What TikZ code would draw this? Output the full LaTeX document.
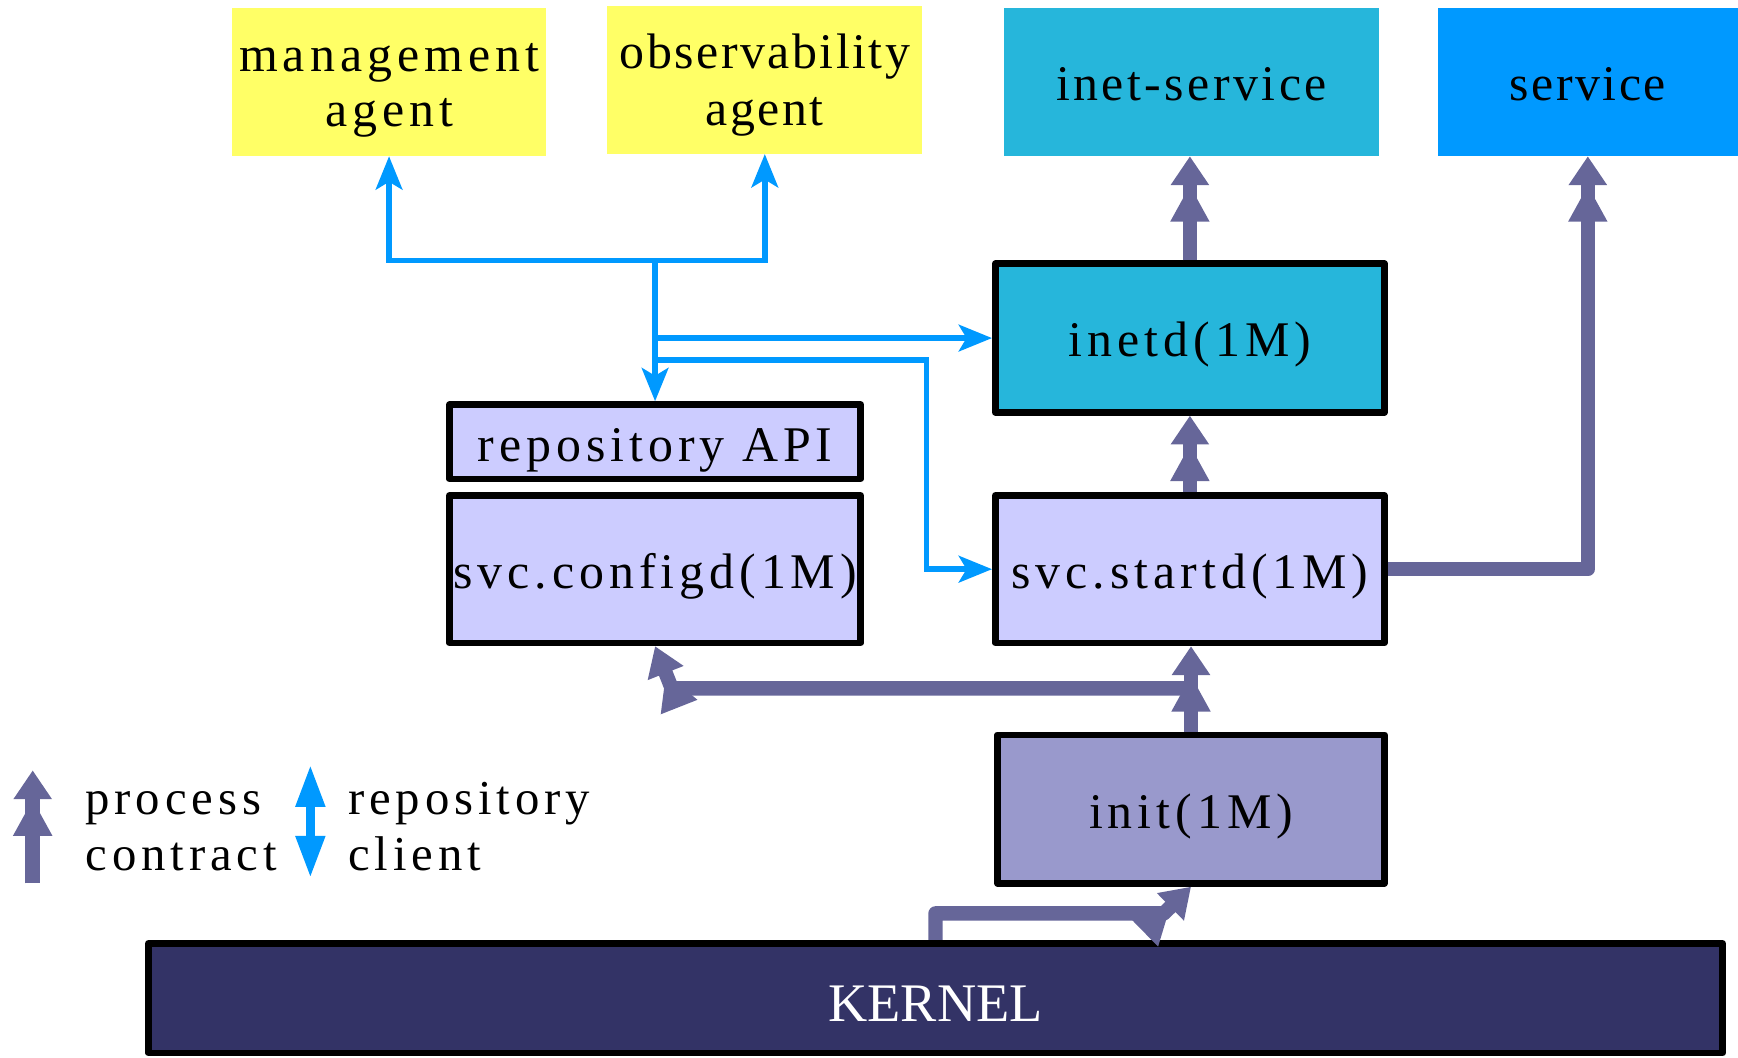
\documentclass[tikz,border=0pt]{standalone}
\usepackage{fontspec}
\setmainfont{Liberation Serif}
\newfontfamily\spacedserif{Liberation Serif}[LetterSpace=10]
\newfontfamily\midserif{Liberation Serif}[LetterSpace=7]
\newfontfamily\tightserif{Liberation Serif}[LetterSpace=5]
\usetikzlibrary{arrows.meta}

\definecolor{agentyellow}{HTML}{FFFF66}
\definecolor{inetcyan}{HTML}{26B6DB}
\definecolor{svcblue}{HTML}{0099FF}
\definecolor{daemonlav}{HTML}{CCCCFF}
\definecolor{initlav}{HTML}{9999CC}
\definecolor{kernelnavy}{HTML}{333366}
\definecolor{contractpurple}{HTML}{666699}
\definecolor{clientblue}{HTML}{0099FF}

% struts that set the first-line height and last-line depth of two-line labels
\newcommand\lblTop{\rule{0pt}{41pt}}
\newcommand\lblBot{\rule[-10pt]{0pt}{10pt}}

\begin{document}
\begin{tikzpicture}[x=1pt,y=-1pt,
  boxtext/.style={font=\spacedserif\fontsize{45}{50}\selectfont, align=center,
    inner sep=0pt, outer sep=0pt, rectangle},
  oneline/.style={text height=44pt, text depth=10pt},
  flatbox/.style={boxtext, draw=none},
  framedbox/.style={boxtext, oneline, draw=black, line width=6pt, line join=round, outer sep=3pt},
  legendtext/.style={font=\spacedserif\fontsize{44}{50}\selectfont, inner sep=0pt, anchor=base west},
  contract/.style={draw=contractpurple, line width=13pt, line join=round,
    -{Triangle[length=33pt,width=33pt,sep=0pt] Triangle[length=26pt,width=33pt]}},
  client/.style={draw=clientblue, line width=5pt,
    -{Stealth[length=30pt,width=24pt,inset=7pt]}},
]
\useasboundingbox (0,0) rectangle (1568,954);

% top row: agents and services
\node[flatbox, fill=agentyellow, minimum width=284pt, minimum height=134pt] (mgmt) at (351,74)
  {\lblTop management\\agent\lblBot};
\node[flatbox, fill=agentyellow, minimum width=284pt, minimum height=134pt,
  font=\tightserif\fontsize{45}{51}\selectfont] (obs) at (690,72)
  {\lblTop observability\\agent\lblBot};
\node[flatbox, oneline, fill=inetcyan, minimum width=338pt, minimum height=134pt,
  font=\midserif\fontsize{45}{50}\selectfont] (inetsvc) at (1075,74) {inet-service};
\node[flatbox, oneline, fill=svcblue, minimum width=271pt, minimum height=134pt,
  font=\tightserif\fontsize{45}{50}\selectfont] (svc) at (1432.5,74) {service};

% daemons
\node[framedbox, fill=inetcyan, minimum width=351pt, minimum height=134pt] (inetd) at (1073.5,305) {inetd(1M)};
\node[framedbox, fill=daemonlav, minimum width=371pt, minimum height=67pt,
  text height=46pt] (repo) at (591,398.5) {repository API};
\node[framedbox, fill=daemonlav, minimum width=371pt, minimum height=133pt] (cfg) at (591,513.5) {svc.configd(1M)};
\node[framedbox, fill=daemonlav, minimum width=351pt, minimum height=133pt] (startd) at (1073.5,513.5) {svc.startd(1M)};
\node[framedbox, fill=initlav, minimum width=349pt, minimum height=134pt] (init) at (1074.5,730) {init(1M)};
\node[framedbox, fill=kernelnavy, text=white, font=\fontsize{49}{55}\selectfont,
  text height=53pt, text depth=10pt,
  minimum width=1420pt, minimum height=99pt] (kernel) at (844,900.5) {KERNEL};

% repository client connections
\coordinate (hub) at (591,235);
\coordinate (tapA) at (hub |- inetd.west);
\coordinate (tapB) at (591,325);
\coordinate (bendB) at (836,325);
\draw[client] (hub) -| (mgmt.south);
\draw[client] (hub) -| (obs.south);
\draw[client] (hub) -- (repo.north);
\draw[client] (tapA) -- (inetd.west);
\draw[client] (tapB) -- (bendB) |- (startd.west);

% process contracts
\draw[contract] (inetd.north) -- (inetd.north |- inetsvc.south);
\draw[contract] (startd.north) -- (inetd.south);
\draw[contract] (startd.east) -| (svc.south);
\draw[contract] (init.north) -- (init.north |- startd.south);
\coordinate (split) at (1074.5,621);
\coordinate (cfgbend) at (606,621);
\draw[contract] (split) -- (cfgbend) -- (cfg.south);
\coordinate (kup) at (844,824);
\coordinate (kbend) at (1050,824);
\draw[contract] (kernel.north) -- (kup) -- (kbend) -- (init.south);

% legend
\coordinate (legPbot) at (29.5,797);
\coordinate (legPtop) at (29.5,695);
\draw[contract] (legPbot) -- (legPtop);
\node[legendtext] (legP1) at (77,735) {process};
\node[legendtext] (legP2) at (77,785) {contract};
\coordinate (legCtop) at (280,690);
\coordinate (legCbot) at (280,792);
\draw[draw=clientblue, line width=8pt,
  {Triangle[length=38pt,width=25pt]}-{Triangle[length=38pt,width=25pt]}] (legCtop) -- (legCbot);
\node[legendtext] (legC1) at (314,735) {repository};
\node[legendtext] (legC2) at (314,785) {client};
\end{tikzpicture}
\end{document}
